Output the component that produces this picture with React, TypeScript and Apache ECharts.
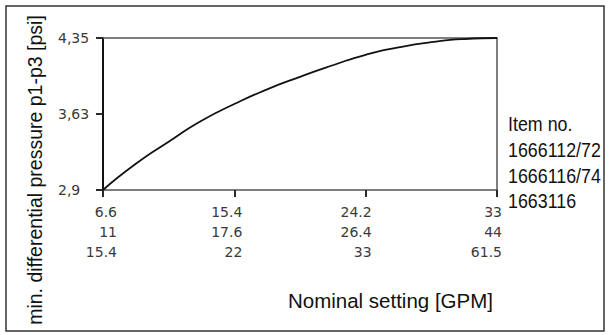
import React, { useEffect, useRef } from "react";
import * as echarts from "echarts";

// Data
const flowGPM = [6.6, 8.8, 11.0, 13.2, 15.4, 17.6, 19.8, 22.0, 24.2, 26.4, 28.6, 30.8, 33.0];
const pressurePsi = [2.9, 3.15, 3.36, 3.56, 3.72, 3.86, 3.98, 4.09, 4.19, 4.26, 4.31, 4.34, 4.35];

const xTicks = [6.6, 15.4, 24.2, 33];
const xRow1 = ["6.6", "15.4", "24.2", "33"];
const xRow2 = ["11", "17.6", "26.4", "44"];
const xRow3 = ["15.4", "22", "33", "61.5"];

const yTicks = [2.9, 3.625, 4.35];
const yTickLabels = ["2,9", "3,63", "4,35"];

const yTitle = "min. differential pressure p1-p3 [psi]";
const xTitle = "Nominal setting [GPM]";
const itemLines = ["Item no.", "1666112/72", "1666116/74", "1663116"];

export default function App() {
  const ref = useRef<HTMLDivElement>(null);
  useEffect(() => {
    if (!ref.current) return;
    const chart = echarts.init(ref.current, null, { renderer: "svg" });
    const tickFont = {
      fontFamily: "'DejaVu Sans', sans-serif",
      fontSize: 14,
      color: "#3a3a3a",
      lineHeight: 20,
    };
    const richNames = ["a", "b", "c", "d"];
    const richWidths = [28, 16, 12, 10];
    const rich: any = {};
    richNames.forEach((n, i) => {
      rich[n] = { ...tickFont, width: richWidths[i], align: "right" };
    });
    const xMin = xTicks[0];
    const xMax = xTicks[xTicks.length - 1];
    const yMin = yTicks[0];
    const yMax = yTicks[yTicks.length - 1];
    chart.setOption({
      animation: false,
      backgroundColor: "#fff",
      grid: { left: 103, top: 38, right: 114, bottom: 145, show: false },
      xAxis: [
        {
          type: "value",
          min: xMin,
          max: xMax,
          splitLine: { show: false },
          axisLine: { show: true, lineStyle: { color: "#555", width: 1.5 } },
          axisTick: {
            show: true,
            inside: false,
            customValues: xTicks,
            length: 7,
            lineStyle: { color: "#2a2a2a", width: 2 },
          },
          axisLabel: {
            customValues: xTicks,
            margin: 12,
            align: "center",
            overflow: "none",
            ...tickFont,
            rich,
            formatter: (v: number) => {
              const i = xTicks.findIndex((t) => Math.abs(t - v) < 1e-6);
              if (i < 0) return "";
              const s = richNames[i];
              return [`{${s}|${xRow1[i]}}`, `{${s}|${xRow2[i]}}`, `{${s}|${xRow3[i]}}`].join("\n");
            },
          },
        },
        {
          type: "value",
          position: "top",
          min: xMin,
          max: xMax,
          splitLine: { show: false },
          axisLine: { show: true, lineStyle: { color: "#555", width: 1.5 } },
          axisTick: { show: false },
          axisLabel: { show: false },
        },
      ],
      yAxis: [
        {
          type: "value",
          min: yMin,
          max: yMax,
          interval: yTicks[1] - yTicks[0],
          splitLine: { show: false },
          axisLine: { show: true, lineStyle: { color: "#111", width: 2 } },
          axisTick: {
            show: true,
            inside: false,
            length: 7,
            lineStyle: { color: "#2a2a2a", width: 2 },
          },
          axisLabel: {
            margin: 45,
            align: "left",
            ...tickFont,
            formatter: (v: number) => {
              const i = yTicks.findIndex((t) => Math.abs(t - v) < 1e-3);
              return i < 0 ? "" : yTickLabels[i];
            },
          },
        },
        {
          type: "value",
          position: "right",
          min: yMin,
          max: yMax,
          splitLine: { show: false },
          axisLine: { show: true, lineStyle: { color: "#555", width: 1.5 } },
          axisTick: { show: false },
          axisLabel: { show: false },
        },
      ],
      series: [
        {
          type: "line",
          xAxisIndex: 0,
          yAxisIndex: 0,
          data: flowGPM.map((x, i) => [x, pressurePsi[i]]),
          smooth: 0.6,
          showSymbol: false,
          lineStyle: { color: "#111", width: 1.8 },
        },
      ],
      graphic: [
        {
          type: "rect",
          shape: { x: 6, y: 6, width: 598, height: 325 },
          style: { fill: "none", stroke: "#333", lineWidth: 1.5 },
          silent: true,
        },
        {
          type: "text",
          x: 35,
          y: 170,
          rotation: Math.PI / 2,
          style: {
            text: yTitle,
            fontFamily: "'Liberation Sans', Arial, sans-serif",
            fontSize: 19.5,
            fill: "#111",
            textAlign: "center",
            textVerticalAlign: "middle",
          },
        },
        {
          type: "text",
          x: 493,
          y: 300,
          style: {
            text: xTitle,
            fontFamily: "'Liberation Sans', Arial, sans-serif",
            fontSize: 20.5,
            fill: "#111",
            textAlign: "right",
            textVerticalAlign: "middle",
          },
        },
        ...itemLines.map((t, i) => ({
          type: "text",
          x: 508,
          y: [123, 149, 175, 200][i],
          scaleX: 0.85,
          style: {
            text: t,
            fontFamily: "'Liberation Sans', Arial, sans-serif",
            fontSize: 21,
            fill: "#111",
            textAlign: "left",
            textVerticalAlign: "middle",
          },
        })),
      ],
    });
    return () => chart.dispose();
  }, []);
  return (
    <div
      ref={ref}
      style={{ position: "absolute", left: 0, top: 0, width: 611, height: 335 }}
    />
  );
}
